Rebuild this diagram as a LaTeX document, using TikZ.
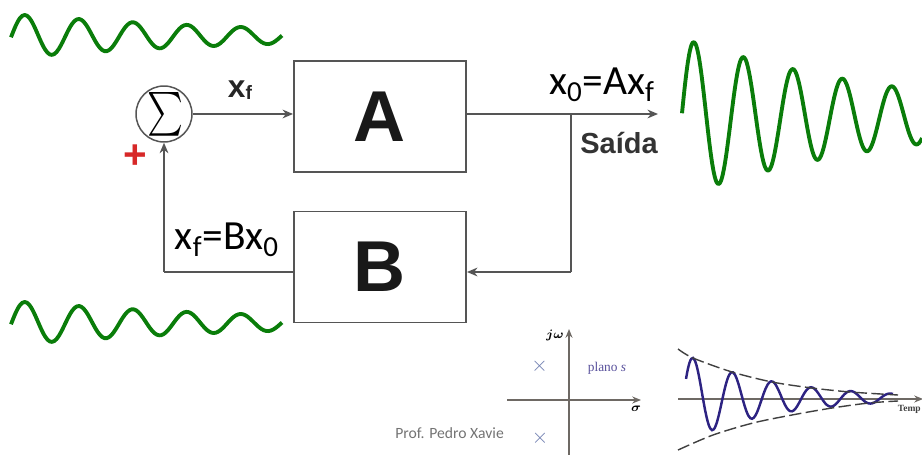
\documentclass[tikz,border=0pt]{standalone}
\usepackage{amsmath}
\usepackage{fontspec}
\setmainfont{Carlito}
\newfontfamily\arialfont{Liberation Sans}
\newfontfamily\timesfont{Liberation Serif}
\usetikzlibrary{positioning,arrows.meta,calc}
\definecolor{wavecol}{RGB}{10,125,10}
\definecolor{linecol}{RGB}{85,85,85}
\definecolor{decaycol}{RGB}{45,35,130}
\definecolor{polecol}{RGB}{110,125,175}
\definecolor{axiscol}{RGB}{110,105,100}
\definecolor{pluscol}{RGB}{215,40,40}
\newcommand{\lowsub}[1]{$_{\text{#1}}$}
\newcommand{\fsz}[1]{\fontsize{#1}{#1}\selectfont}

\begin{document}
\begin{tikzpicture}[
  x=0.02cm, y=-0.02cm,
  bk/.style={rectangle, draw=linecol, line width=1.1pt, minimum width=3.44cm, minimum height=2.22cm,
             font=\arialfont\bfseries\fsz{41}, text=black!90},
  ar/.style={-{Stealth[length=6pt,width=5pt]}, line width=0.85pt, linecol},
  ln/.style={line width=0.85pt, linecol},
  wv/.style={wavecol, line width=2.2pt, line join=round, smooth},
  dk/.style={decaycol, line width=1.4pt, smooth},
  env/.style={black!75, line width=0.8pt, dash pattern=on 7pt off 2.5pt, smooth},
  ax/.style={-{Stealth[length=5pt,width=4pt]}, axiscol, line width=0.9pt},
  lb/.style={font=\fsz{23.6}, inner sep=0pt},
  pl/.style={font=\fsz{12}, text=polecol, inner sep=0pt},
  sr/.style={font=\boldmath\fsz{7}, inner sep=0pt},
]
\clip (0,0) rectangle (922,455);

\node[bk] (blockA) at (380,116.5) {A};
\node[bk] (blockB) at (380,267) {B};
\node[circle, draw=linecol, line width=0.85pt, minimum size=1.12cm, inner sep=0pt] (sum) at (164,114) {};
\node[font=\fsz{23}, inner sep=0pt, xscale=0.78] (sumsgn) at (165,114) {$\sum$};
\coordinate (junc) at (571,114);
\coordinate (out)  at (658,114);
\coordinate (fbk)  at (571,272);
\coordinate (cnr)  at (sum |- fbk);

\draw[ar] (sum.east) -- (sum.east -| blockA.west);
\draw[ar] (junc -| blockA.east) -- (out);
\draw[ln] (junc) -- (fbk);
\draw[ar] (fbk) -- (fbk -| blockB.east);
\draw[ln] (fbk -| blockB.west) -- (cnr);
\draw[ar] (cnr) -- (sum.south);

\node[font=\arialfont\bfseries\fsz{23}, text=pluscol, inner sep=0pt] (plus) at (135,157) {+};
\node[font=\arialfont\bfseries\fsz{18}, text=black!85, inner sep=0pt] (lbxf) at (240,90)
  {x\raisebox{-1pt}{\fsz{11}f}};
\node[font=\arialfont\bfseries\fsz{16.5}, text=black!80, inner sep=0pt] (lbout) at (619,143) {Saída};
\node[lb] (lbA) at (602,85) {x\lowsub{0}=Ax\lowsub{f}};
\node[lb] (lbB) at (227,240) {x\lowsub{f}=Bx\lowsub{0}};

\foreach \yo in {36,323}
  \draw[wv] plot[domain=11:282, samples=120] (\x,{\yo-21*exp(-(\x-25)/255)*cos((\x-25)/54*360)});
\draw[wv] plot[domain=682:922, samples=160] (\x,{117-75*exp(-(\x-694)/222)*cos((\x-694)/49.5*360)});

\coordinate (sl) at (507,400);
\coordinate (sr) at (641,400);
\coordinate (sb) at (569,455);
\coordinate (st) at (569,329);
\draw[ax] (sl) -- (sr);
\draw[ax] (sb) -- (st);
\node[pl] (pa) at (539.5,366) {$\times$};
\node[pl] (pb) at (540,438) {$\times$};
\node[font=\timesfont\fsz{7.6}, text=decaycol!80, inner sep=0pt] (plano) at (607,368) {plano \textit{s}};
\node[sr] (jw) at (555,335) {$j\omega$};
\node[sr] (sg) at (636,409) {$\sigma$};

\coordinate (tl) at (678,399);
\coordinate (tr) at (923,399);
\draw[ax] (tl) -- (tr);
\draw[dk] plot[domain=686:893, samples=120] (\x,{398-40*exp(-(\x-693)/90)*cos((\x-693)/39.5*360)});
\draw[env] plot coordinates {(678,349) (693,358) (732,372) (772,382) (812,388) (850,392) (898,395)};
\draw[env] plot coordinates {(678,450) (713,435) (753,423) (792,415) (832,408) (869,403) (898,401)};
\node[font=\timesfont\bfseries\fsz{5.4}, text=black!75, inner sep=0pt, anchor=west] (tm) at (897.5,409) {Temp};

\node[font=\fsz{8.9}, text=black!55, inner sep=0pt, anchor=west] (prof) at (395,433) {Prof. Pedro Xavie};
\end{tikzpicture}
\end{document}
